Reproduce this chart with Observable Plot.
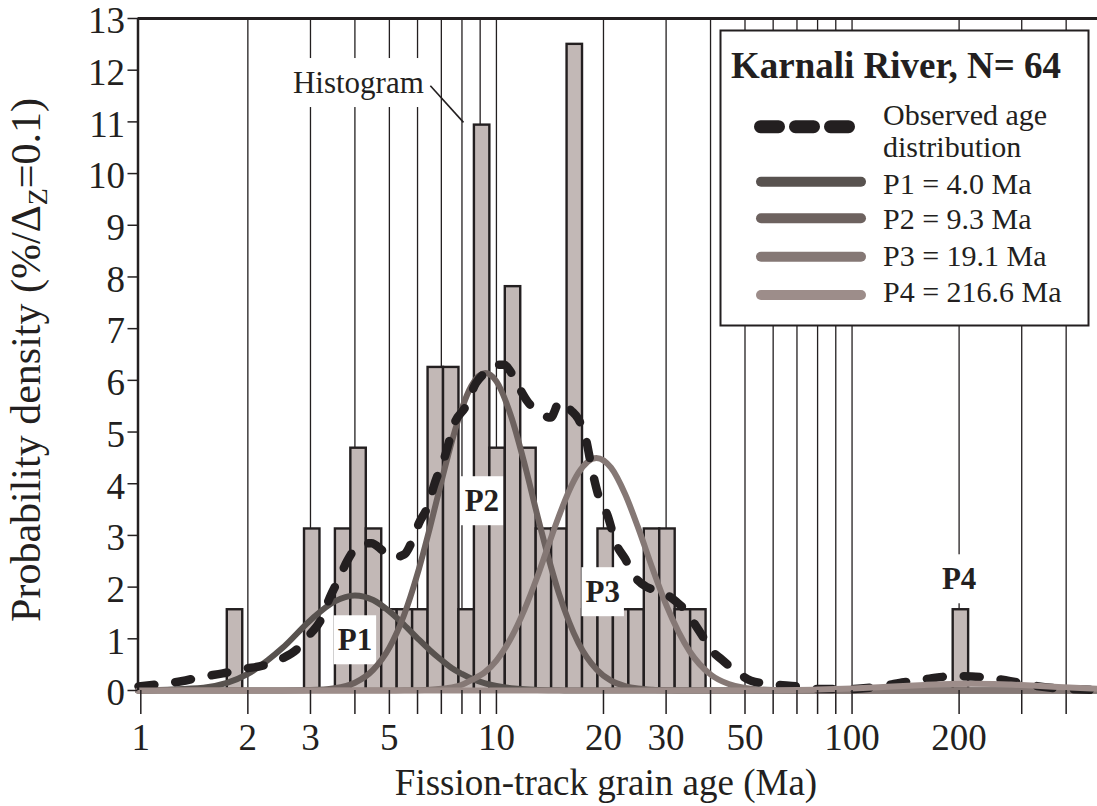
<!DOCTYPE html>
<html><head><meta charset="utf-8">
<script src="https://cdn.jsdelivr.net/npm/d3@7"></script>
<script src="https://cdn.jsdelivr.net/npm/@observablehq/plot@0.6"></script>
<style>
html,body{margin:0;padding:0;background:#fff;overflow:hidden;}
#chart{width:1097px;height:806px;}
</style></head><body><div id="chart"></div>
<script>
// ---------- data ----------
const N = 64;
const xDomain = [0.982, 490];
// histogram bins: left edge in z = ln(age), bin width dz = 0.1; grain counts
const binStartZ = [0.56, 1.06, 1.26, 1.36, 1.46, 1.56, 1.66, 1.76, 1.86, 1.96, 2.06, 2.16, 2.26, 2.36, 2.46, 2.56, 2.66, 2.76, 2.86, 2.96, 3.06, 3.16, 3.26, 3.36, 3.46, 3.56, 5.26];
const binCount  = [1, 2, 2, 3, 2, 1, 1, 1, 4, 4, 1, 7, 3, 5, 3, 2, 2, 8, 1, 2, 1, 1, 2, 2, 1, 1, 1];
const binWidthZ = 0.1;

const gridTicks = [2, 3, 4, 5, 6, 7, 8, 9, 10, 20, 30, 40, 50, 60, 70, 80, 90, 100, 200, 300, 400];
const xTicks = [1, 2, 3, 4, 5, 6, 7, 8, 9, 10, 20, 30, 40, 50, 60, 70, 80, 90, 100, 200, 300, 400];
const xTickLabels = [1, 2, 3, 5, 7, 10, 20, 30, 50, 100, 200];
const yTicks = [0, 1, 2, 3, 4, 5, 6, 7, 8, 9, 10, 11, 12, 13];

// observed age distribution (dashed)
const obsAge  = [0.985, 1.15, 1.3, 1.5, 1.7, 1.95, 2.2, 2.5, 2.75, 3.0, 3.2, 3.4, 3.6, 3.8, 4.1, 4.45, 4.8, 5.1, 5.5, 5.8, 6.05, 6.4, 6.7, 7.2, 7.6, 8.2, 8.75, 9.3, 10.0, 10.5, 11.0, 11.5, 12.2, 13.2, 14.2, 15.1, 16.2, 17.0, 17.8, 18.6, 19.5, 20.5, 21.7, 23, 24.5, 26.5, 29, 32, 34, 36, 38, 40, 43, 47, 52, 60, 70, 80, 100, 120, 140, 165, 195, 230, 270, 320, 400, 490];
const obsDens = [0.08, 0.13, 0.18, 0.27, 0.33, 0.42, 0.48, 0.62, 0.8, 1.1, 1.35, 1.8, 2.15, 2.5, 2.8, 2.85, 2.7, 2.57, 2.63, 2.9, 3.23, 3.55, 4.0, 4.58, 5.15, 5.5, 5.94, 6.15, 6.3, 6.3, 6.15, 5.9, 5.6, 5.38, 5.28, 5.6, 5.42, 5.25, 4.9, 4.25, 3.7, 3.4, 2.84, 2.55, 2.2, 2.0, 1.92, 1.72, 1.55, 1.3, 1.05, 0.8, 0.6, 0.38, 0.19, 0.12, 0.08, 0.03, 0.03, 0.08, 0.16, 0.23, 0.28, 0.26, 0.2, 0.1, 0.03, 0.01];

// component peaks (read along a common age grid)
const compAge = [0.982, 1.5, 2, 2.5, 3, 3.5, 4, 4.5, 5, 5.5, 6, 6.5, 7, 7.5, 8, 8.5, 9.3, 10, 11, 12, 13, 14, 15, 16, 17, 19.1, 21, 23, 25, 27.5, 30, 35, 40, 45, 50, 60, 70, 80, 100, 130, 160, 190, 216.6, 250, 280, 320, 380, 490];
const p1 = [0.001, 0.055, 0.32, 0.82, 1.36, 1.72, 1.84, 1.75, 1.53, 1.27, 1.01, 0.78, 0.59, 0.43, 0.32, 0.23, 0.137, 0.086, 0.044, 0.022, 0.012, 0.006, 0.003, 0.002, 0.001, 0, 0, 0, 0, 0, 0, 0, 0, 0, 0, 0, 0, 0, 0, 0, 0, 0, 0, 0, 0, 0, 0, 0];
const p2 = [0, 0, 0, 0.001, 0.008, 0.043, 0.15, 0.40, 0.83, 1.46, 2.26, 3.15, 4.04, 4.83, 5.46, 5.89, 6.14, 5.98, 5.30, 4.38, 3.42, 2.57, 1.87, 1.33, 0.92, 0.41, 0.19, 0.086, 0.038, 0.014, 0.005, 0, 0, 0, 0, 0, 0, 0, 0, 0, 0, 0, 0, 0, 0, 0, 0, 0];
const p3 = [0, 0, 0, 0, 0, 0, 0, 0, 0.001, 0.003, 0.006, 0.015, 0.033, 0.06, 0.11, 0.2, 0.36, 0.58, 1.02, 1.57, 2.18, 2.81, 3.38, 3.86, 4.21, 4.5, 4.31, 3.80, 3.16, 2.35, 1.66, 0.75, 0.31, 0.125, 0.049, 0.008, 0.001, 0, 0, 0, 0, 0, 0, 0, 0, 0, 0, 0];
const p4 = [0, 0, 0, 0, 0, 0, 0, 0, 0, 0, 0, 0, 0, 0, 0, 0, 0, 0, 0, 0, 0, 0, 0, 0, 0, 0, 0, 0, 0, 0, 0, 0, 0, 0, 0.002, 0.005, 0.010, 0.018, 0.039, 0.077, 0.108, 0.126, 0.13, 0.125, 0.114, 0.096, 0.069, 0.034];

const compNames  = ["P1 = 4.0 Ma", "P2 = 9.3 Ma", "P3 = 19.1 Ma", "P4 = 216.6 Ma"];
const compColors = ["#58524f", "#6d625f", "#857875", "#9d8d8a"];
const obsName = ["Observed age", "distribution"];
const legendTitle = "Karnali River, N= 64";

const peakText = ["P1", "P2", "P3", "P4"];
const peakAge  = [4.0, 9.1, 19.9, 200];
const peakY    = [0.97, 3.66, 1.90, 2.15];

const histText = "Histogram";
const histAge = 4.09, histY = 11.75;
const leaderFrom = [6.52, 11.70], leaderTo = [8.08, 10.99];

// ---------- tables ----------
const bins = binStartZ.map((z, i) => ({x1: Math.exp(z), x2: Math.exp(z + binWidthZ), h: binCount[i] * 100 / N}));
const obs = obsAge.map((a, i) => ({age: a, v: obsDens[i]}));
const comps = [p1, p2, p3, p4].map(arr => compAge.map((a, i) => ({age: a, v: arr[i]})));
const peaks = peakText.map((t, i) => ({t, age: peakAge[i], y: peakY[i]}));

const ink = "#231f20";
const font = "Liberation Serif, Times New Roman, serif";

const compLine = (k) => Plot.line(comps[k], {x: "age", y: "v", stroke: compColors[k], strokeWidth: 6, curve: "monotone-x"});

const svg = Plot.plot({
  width: 1097, height: 806,
  marginLeft: 137.5, marginRight: 0, marginTop: 18, marginBottom: 116,
  style: {fontFamily: font, fontSize: "37px", color: ink, background: "white", overflow: "visible"},
  x: {type: "log", domain: xDomain},
  y: {domain: [0, 13]},
  marks: [
    Plot.ruleX(gridTicks, {y1: 0, y2: 13, stroke: ink, strokeWidth: 1.3}),
    Plot.rect(bins, {x1: "x1", x2: "x2", y1: 0, y2: "h", fill: "#c2b8b6", stroke: ink, strokeWidth: 2.4}),
    Plot.text(peaks, {x: "age", y: "y", text: "t", fontWeight: "bold", fontSize: 31, fill: ink, ariaDescription: "boxed-label"}),
    Plot.text([histText], {x: () => histAge, y: () => histY, text: d => d, fontSize: 31, fill: ink, ariaDescription: "boxed-label"}),
    Plot.link([0], {x1: () => leaderFrom[0], y1: () => leaderFrom[1], x2: () => leaderTo[0], y2: () => leaderTo[1], stroke: ink, strokeWidth: 1.6}),
    compLine(0), compLine(1), compLine(2),
    Plot.line(obs, {x: "age", y: "v", stroke: ink, strokeWidth: 8.5, strokeDasharray: "16,21", strokeLinecap: "round", curve: "monotone-x"}),
    compLine(3),
    Plot.ruleY([13], {stroke: ink, strokeWidth: 3}),
    Plot.ruleX([xDomain[0]], {y1: 0, y2: 13, stroke: ink, strokeWidth: 2.5}),
    Plot.axisX(xTicks, {tickSize: 24, tickPadding: 9, strokeWidth: 1.5, tickFormat: d => xTickLabels.includes(d) ? String(d) : "", label: null}),
    Plot.axisY(yTicks, {tickSize: 10, tickPadding: 3, strokeWidth: 1.5, tickFormat: () => "", label: null}),
    Plot.axisY(yTicks, {tickSize: 0, tickPadding: 13, dy: 3, tickFormat: d => String(d), label: null})
  ]
});
document.getElementById("chart").appendChild(svg);

// white boxes behind labels
svg.querySelectorAll('g[aria-description="boxed-label"] text').forEach(t => {
  const b = t.getBBox();
  const r = document.createElementNS("http://www.w3.org/2000/svg", "rect");
  r.setAttribute("x", b.x - 4); r.setAttribute("y", b.y - 7);
  r.setAttribute("width", b.width + 8); r.setAttribute("height", b.height + 14);
  r.setAttribute("fill", "white");
  r.setAttribute("stroke", "none");
  const tr = t.getAttribute("transform");
  if (tr) r.setAttribute("transform", tr);
  t.parentNode.insertBefore(r, t);
});

const s = d3.select(svg);
// axis titles
s.append("text").attr("transform", "translate(40,360) rotate(-90)").attr("text-anchor", "middle")
  .attr("font-size", 42).attr("fill", ink).attr("font-family", font)
  .call(t => {
    t.append("tspan").text("Probability density (%/Δ");
    t.append("tspan").attr("font-size", 28).attr("dy", 7).text("Z");
    t.append("tspan").attr("dy", -7).text("=0.1)");
  });
s.append("text").attr("x", 606).attr("y", 795).attr("text-anchor", "middle")
  .attr("font-size", 37).attr("fill", ink).attr("font-family", font)
  .text("Fission-track grain age (Ma)");

// legend
const lg = s.append("g").attr("font-family", font).attr("fill", ink).attr("text-anchor", "start");
lg.append("rect").attr("x", 720.5).attr("y", 30.5).attr("width", 368).attr("height", 295)
  .attr("fill", "white").attr("stroke", ink).attr("stroke-width", 2);
lg.append("text").attr("x", 731).attr("y", 78).attr("font-weight", "bold").attr("font-size", 37).text(legendTitle);
lg.append("line").attr("x1", 760.5).attr("x2", 848.5).attr("y1", 126.7).attr("y2", 126.7)
  .attr("stroke", ink).attr("stroke-width", 13).attr("stroke-linecap", "round").attr("stroke-dasharray", "18,17");
lg.append("text").attr("x", 883).attr("y", 125).attr("font-size", 30).text(obsName[0]);
lg.append("text").attr("x", 883).attr("y", 157).attr("font-size", 30).text(obsName[1]);
const lineYs = [181.7, 218.3, 256.7, 295];
const textYs = [194, 229, 266, 302];
compNames.forEach((n, i) => {
  lg.append("line").attr("x1", 761).attr("x2", 861).attr("y1", lineYs[i]).attr("y2", lineYs[i])
    .attr("stroke", compColors[i]).attr("stroke-width", 10).attr("stroke-linecap", "round");
  lg.append("text").attr("x", 883).attr("y", textYs[i]).attr("font-size", 30).text(n);
});
</script></body></html>
